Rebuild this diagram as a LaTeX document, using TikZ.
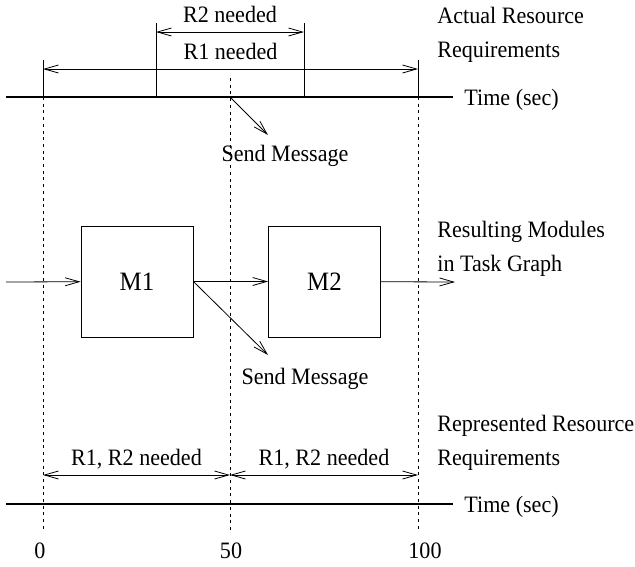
\documentclass[tikz,border=0pt]{standalone}
\usepackage{fontspec}
\setmainfont{Liberation Serif}[FakeStretch=0.94]
\usetikzlibrary{arrows.meta}
\begin{document}
\begin{tikzpicture}[x=1pt, y=-1pt, line width=0.8pt, >={Straight Barb[length=14pt,width=8pt]},
  every node/.style={font=\fontsize{23.5}{34}\selectfont, inner sep=3pt},
  timeline/.style={line width=2.6pt},
  guide/.style={dash pattern=on 3pt off 3.7pt},
  span/.style={<->},
  spanlabel/.style={above=6pt, text depth=0pt},
  module/.style={draw, minimum width=112pt, minimum height=111pt, font=\fontsize{26.5}{30}\selectfont},
  caption/.style={anchor=north west, align=left}]
\useasboundingbox (0,0) rectangle (635,566);
\coordinate (t0) at (43,97); \coordinate (t50) at (230,97); \coordinate (t100) at (418,97);
\coordinate (g50) at (230,78);
\coordinate (b0) at (43,530); \coordinate (b50) at (230,530); \coordinate (b100) at (418,530);
\draw[guide] (t0) -- (b0); \draw[guide] (g50) -- (b50); \draw[guide] (t100) -- (b100);
\coordinate (tl) at (6,97); \coordinate (tr) at (453,97);
\draw[timeline] (tl) -- (tr);
\node[anchor=base west] (ttime) at (461,105) {Time (sec)};
\draw (t0) -- ++(0,-37); \draw (t100) -- ++(0,-37);
\coordinate (r2s) at (156,97); \coordinate (r2e) at (304,97);
\draw (r2s) -- ++(0,-74); \draw (r2e) -- ++(0,-74);
\coordinate (r1a) at (43,69); \coordinate (r1b) at (418,69);
\draw[span] (r1a) -- node[spanlabel] {R1 needed} (r1b);
\coordinate (r2a) at (156,32); \coordinate (r2b) at (304,32);
\draw[span] (r2a) -- node[spanlabel] {R2 needed} (r2b);
\node[caption] (actual) at (434,4) {Actual Resource\\Requirements};
\node[anchor=base] (send1) at (285,161) {Send Message};
\coordinate (send1tip) at (268,135);
\draw[->] (t50) -- (send1tip);
\node[module] (m1) at (137,281.5) {M1};
\node[module] (m2) at (324.5,281.5) {M2};
\coordinate (in) at (6,282); \coordinate (out) at (455,282);
\draw[->] (in) -- (m1); \draw[->] (m1) -- (m2); \draw[->] (m2) -- (out);
\node[caption] (resulting) at (434,218) {Resulting Modules\\in Task Graph};
\node[anchor=base] (send2) at (305,384) {Send Message};
\coordinate (send2tip) at (268,355);
\draw[->] (m1.east) -- (send2tip);
\node[caption] (represented) at (434,412) {Represented Resource\\Requirements};
\coordinate (s0) at (43,475); \coordinate (s50) at (230,475); \coordinate (s100) at (418,475);
\draw[span] (s0) -- node[spanlabel] {R1, R2 needed} (s50);
\draw[span] (s50) -- node[spanlabel] {R1, R2 needed} (s100);
\coordinate (bl) at (6,504); \coordinate (br) at (453,504);
\draw[timeline] (bl) -- (br);
\node[anchor=base west] (btime) at (461,512) {Time (sec)};
\node[anchor=base] (l0) at (40,558) {0};
\node[anchor=base] (l50) at (231,558) {50};
\node[anchor=base] (l100) at (425,558) {100};
\end{tikzpicture}
\end{document}
